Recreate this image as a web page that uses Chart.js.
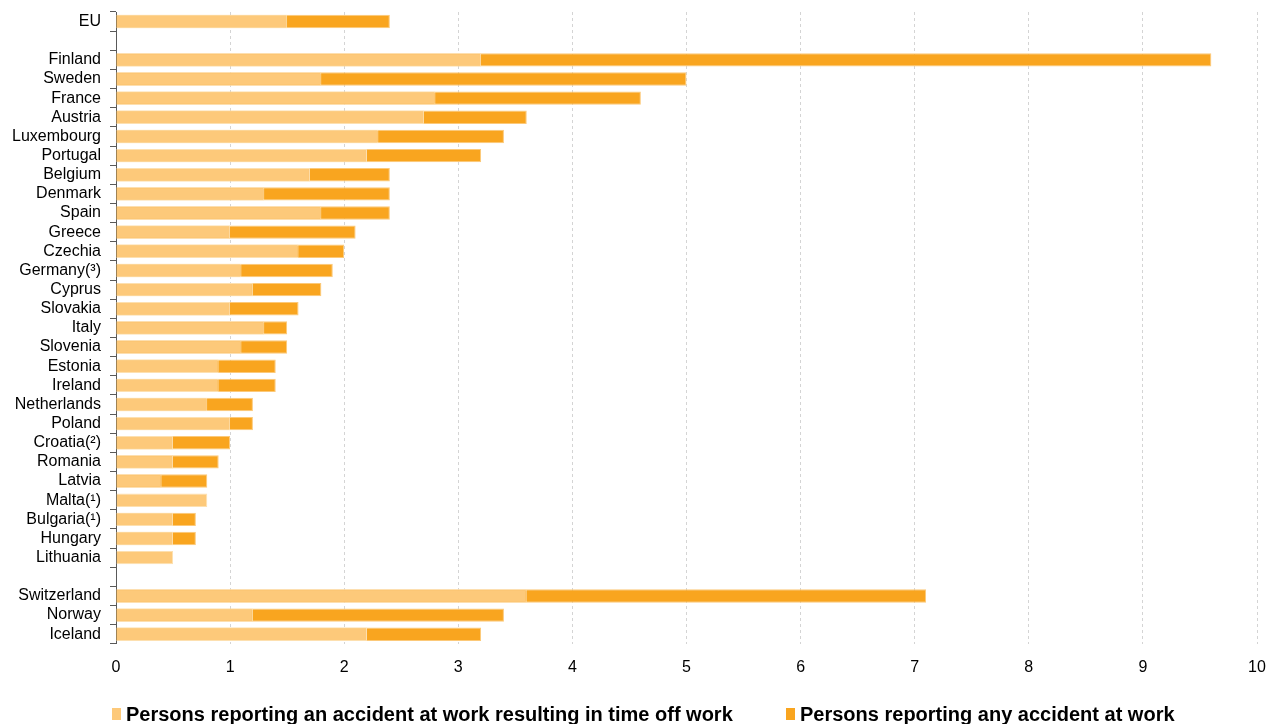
<!DOCTYPE html>
<html>
<head>
<meta charset="utf-8">
<script src="https://cdn.jsdelivr.net/npm/chart.js@4.4.1/dist/chart.umd.min.js"></script>
<style>
  html, body { margin: 0; padding: 0; background: #fff; overflow: hidden; }
  #wrap { width: 1272px; height: 724px; }
</style>
</head>
<body>
<div id="wrap"><canvas id="chart"></canvas></div>
<script>
// empty labels leave a blank row between the groups
const countries = [
  "EU", "",
  "Finland", "Sweden", "France", "Austria", "Luxembourg", "Portugal", "Belgium",
  "Denmark", "Spain", "Greece", "Czechia", "Germany(³)", "Cyprus", "Slovakia",
  "Italy", "Slovenia", "Estonia", "Ireland", "Netherlands", "Poland", "Croatia(²)",
  "Romania", "Latvia", "Malta(¹)", "Bulgaria(¹)", "Hungary", "Lithuania", "",
  "Switzerland", "Norway", "Iceland"
];

const timeOffWork = [
  1.5, null,
  3.2, 1.8, 2.8, 2.7, 2.3, 2.2, 1.7,
  1.3, 1.8, 1.0, 1.6, 1.1, 1.2, 1.0,
  1.3, 1.1, 0.9, 0.9, 0.8, 1.0, 0.5,
  0.5, 0.4, 0.8, 0.5, 0.5, 0.5, null,
  3.6, 1.2, 2.2
];

const anyAccident = [
  2.4, null,
  9.6, 5.0, 4.6, 3.6, 3.4, 3.2, 2.4,
  2.4, 2.4, 2.1, 2.0, 1.9, 1.8, 1.6,
  1.5, 1.5, 1.4, 1.4, 1.2, 1.2, 1.0,
  0.9, 0.8, null, 0.7, 0.7, null, null,
  7.1, 3.4, 3.2
];

const seriesNames = [
  "Persons reporting an accident at work resulting in time off work",
  "Persons reporting any accident at work"
];

const lightOrange = "#fdc97a";
const darkOrange = "#f9a51f";

Chart.defaults.font.family = "'Liberation Sans', Arial, sans-serif";

// legend drawn under the axis, boxes are narrow upright rectangles
const bottomLegend = {
  id: "bottomLegend",
  afterDraw(chart) {
    const ctx = chart.ctx;
    const y = 714;
    const xs = [112, 786];
    ctx.save();
    ctx.font = "bold 20px 'Liberation Sans', Arial, sans-serif";
    ctx.textBaseline = "middle";
    chart.data.datasets.forEach((ds, i) => {
      ctx.fillStyle = ds.backgroundColor;
      ctx.fillRect(xs[i], y - 6, 9, 12);
      ctx.fillStyle = "#000";
      ctx.fillText(ds.label, xs[i] + 14, y + 1);
    });
    ctx.restore();
  }
};

new Chart(document.getElementById("chart"), {
  type: "bar",
  data: {
    labels: countries,
    datasets: [
      // first dataset is painted last, so the light bar sits over the total
      {
        label: seriesNames[0],
        data: timeOffWork,
        backgroundColor: lightOrange,
        borderColor: "#fde0b0",
        borderWidth: 1,
        barPercentage: 0.7,
        categoryPercentage: 1
      },
      {
        label: seriesNames[1],
        data: anyAccident,
        backgroundColor: darkOrange,
        borderColor: "#fcc979",
        borderWidth: 1,
        barPercentage: 0.7,
        categoryPercentage: 1
      }
    ]
  },
  options: {
    indexAxis: "y",
    responsive: true,
    maintainAspectRatio: false,
    animation: false,
    layout: { padding: { top: 12, right: 0, bottom: 33, left: 0 } },
    plugins: {
      legend: { display: false },
      tooltip: { enabled: false }
    },
    scales: {
      x: {
        stacked: false,
        min: 0,
        max: 10,
        ticks: { stepSize: 1, color: "#000", font: { size: 16 }, padding: 14 },
        grid: { color: "#d4d4d4", drawTicks: false },
        border: { display: false, dash: [3, 3] },
        afterFit(scale) { scale.paddingRight = 15; }
      },
      y: {
        stacked: true,
        ticks: { color: "#000", font: { size: 16 }, padding: 9, autoSkip: false },
        grid: { offset: true, drawOnChartArea: false, tickLength: 6, color: "#595959" },
        border: { color: "#595959" },
        afterFit(scale) {
          scale.width = 116;
          scale.paddingTop = 0;
          scale.paddingBottom = 0;
        }
      }
    }
  },
  plugins: [bottomLegend]
});
</script>
</body>
</html>
